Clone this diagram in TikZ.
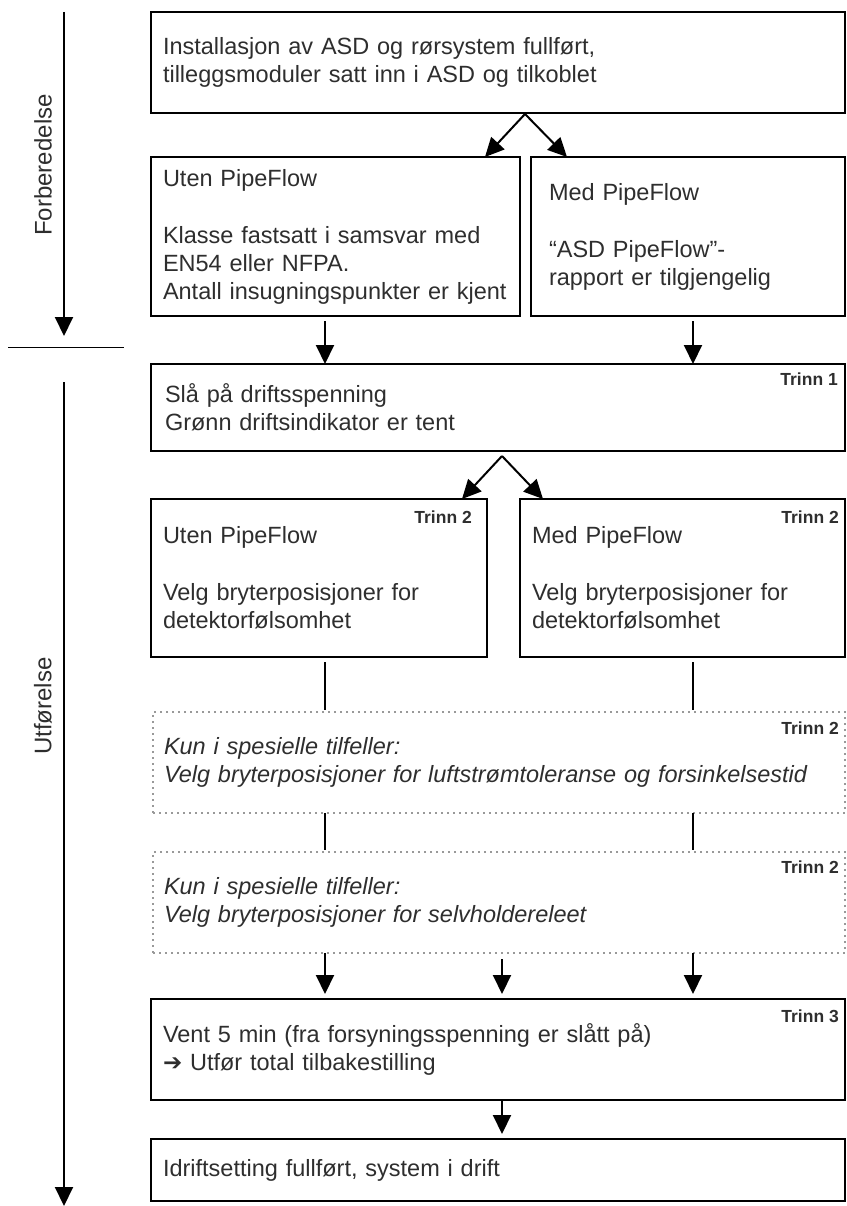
\documentclass[tikz,border=0pt]{standalone}
\usepackage{fontspec}
\setmainfont{Liberation Sans}
\newfontfamily\arrowfont{DejaVu Sans}
\usetikzlibrary{arrows.meta}

\tikzset{
  stepbox/.style={draw, line width=1.6pt, rectangle, anchor=north west, outer sep=0pt,
    align=left, inner xsep=12pt, inner ysep=0pt, text=black!82,
    font=\fontsize{23.5}{28}\selectfont},
  optbox/.style={stepbox, draw=black!40, line width=1.3pt, dash pattern=on 1.6pt off 4.4pt,
    font=\fontsize{23.5}{28}\selectfont\itshape},
  trinn/.style={font=\fontsize{17.5}{20}\selectfont\bfseries, text=black!82, inner sep=0pt, anchor=base east},
  flow/.style={line width=2pt, -{Triangle[length=19pt,width=18pt]}},
  link/.style={line width=2pt},
  phase/.style={rotate=90, font=\fontsize{24}{28}\selectfont, text=black!82, inner sep=0pt}
}

\begin{document}
\begin{tikzpicture}[x=1pt,y=-1pt]
\useasboundingbox (0,0) rectangle (846,1206);
% phases on the left
\coordinate (prepTop) at (64,12);
\coordinate (prepEnd) at (64,336);
\coordinate (execTop) at (64,382);
\coordinate (execEnd) at (64,1206);
\coordinate (sepL) at (8,347);
\coordinate (sepR) at (124,347);
\draw[flow] (prepTop) -- (prepEnd);
\draw[flow] (execTop) -- (execEnd);
\draw[line width=0.8pt] (sepL) -- (sepR);
\node[phase] (prep) at (43,165) {Forberedelse};
\node[phase] (exec) at (43,706) {Utførelse};

% columns of the connectors
\coordinate (colL) at (325,0);
\coordinate (colM) at (502,0);
\coordinate (colR) at (693,0);

% preparation
\node[stepbox, minimum width=694pt, minimum height=101pt, text width=670pt] (install) at (151,12)
  {Installasjon av ASD og rørsystem fullført,\\tilleggsmoduler satt inn i ASD og tilkoblet};
\node[stepbox, minimum width=369pt, minimum height=159pt, text width=345pt] (uten1) at (151,157)
  {Uten PipeFlow\\[29pt]Klasse fastsatt i samsvar med\\EN54 eller NFPA.\\Antall insugningspunkter er kjent};
\node[stepbox, inner xsep=18pt, minimum width=314pt, minimum height=159pt, text width=278pt] (med1) at (531,157)
  {Med PipeFlow\\[29pt]“ASD PipeFlow”-\\rapport er tilgjengelig};

% execution
\node[stepbox, inner xsep=14pt, minimum width=694pt, minimum height=87pt, text width=666pt] (power) at (151,364)
  {Slå på driftsspenning\\Grønn driftsindikator er tent};
\node[stepbox, minimum width=336pt, minimum height=158pt, text width=312pt] (uten2) at (151,499)
  {Uten PipeFlow\\[29pt]Velg bryterposisjoner for\\detektorfølsomhet};
\node[stepbox, minimum width=325pt, minimum height=158pt, text width=301pt] (med2) at (520,499)
  {Med PipeFlow\\[29pt]Velg bryterposisjoner for\\detektorfølsomhet};
\node[optbox, inner xsep=11pt, minimum width=692pt, minimum height=101pt, text width=670pt] (airflow) at (153,712)
  {Kun i spesielle tilfeller:\\Velg bryterposisjoner for luftstrømtoleranse og forsinkelsestid};
\node[optbox, inner xsep=11pt, minimum width=692pt, minimum height=101pt, text width=670pt] (latch) at (153,852)
  {Kun i spesielle tilfeller:\\Velg bryterposisjoner for selvholdereleet};
\node[stepbox, minimum width=694pt, minimum height=101pt, text width=670pt] (wait) at (151,999)
  {Vent 5 min (fra forsyningsspenning er slått på)\\{\arrowfont\bfseries\fontsize{23}{28}\selectfont ➔} Utfør total tilbakestilling};
\node[stepbox, minimum width=694pt, minimum height=62pt, text width=670pt] (done) at (151,1139)
  {Idriftsetting fullført, system i drift};

% step labels
\node[trinn] (t1) at ([xshift=-7pt,yshift=-21pt]power.north east) {Trinn 1};
\node[trinn] (t2a) at ([xshift=-15pt,yshift=-24pt]uten2.north east) {Trinn 2};
\node[trinn] (t2b) at ([xshift=-6pt,yshift=-24pt]med2.north east) {Trinn 2};
\node[trinn] (t2c) at ([xshift=-6pt,yshift=-22pt]airflow.north east) {Trinn 2};
\node[trinn] (t2d) at ([xshift=-6pt,yshift=-21pt]latch.north east) {Trinn 2};
\node[trinn] (t3) at ([xshift=-6pt,yshift=-23pt]wait.north east) {Trinn 3};

% forks
\coordinate (split1) at (525,114);
\coordinate (split2) at (502,456);
\draw[flow] (split1) -- ([xshift=-35pt]uten1.north east);
\draw[flow] (split1) -- ([xshift=36pt]med1.north west);
\draw[flow] (split2) -- ([xshift=-25pt]uten2.north east);
\draw[flow] (split2) -- ([xshift=23pt]med2.north west);

% connectors
\draw[flow, shorten <=5pt] (uten1.south -| colL) -- (power.north -| colL);
\draw[flow, shorten <=5pt] (med1.south -| colR) -- (power.north -| colR);
\draw[link, shorten <=5pt, shorten >=2pt] (uten2.south -| colL) -- (airflow.north -| colL);
\draw[link, shorten <=5pt, shorten >=2pt] (med2.south -| colR) -- (airflow.north -| colR);
\draw[link, shorten >=2pt] (airflow.south -| colL) -- (latch.north -| colL);
\draw[link, shorten >=2pt] (airflow.south -| colR) -- (latch.north -| colR);
\foreach \c in {colL,colR}
  \draw[flow, shorten >=5pt] (latch.south -| \c) -- (wait.north -| \c);
\draw[flow, shorten <=6pt, shorten >=5pt] (latch.south -| colM) -- (wait.north -| colM);
\draw[flow, shorten >=5pt] (wait.south -| colM) -- (done.north -| colM);
\end{tikzpicture}
\end{document}
